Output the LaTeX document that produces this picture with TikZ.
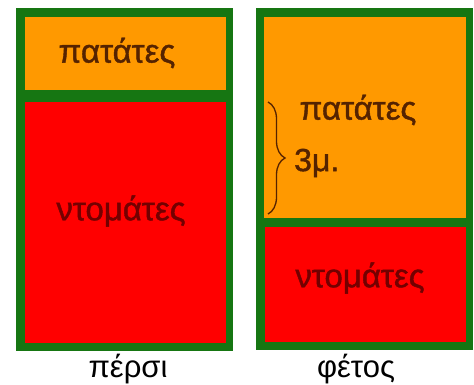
\documentclass[tikz,border=0pt]{standalone}
\usepackage{fontspec}
\setmainfont{Liberation Sans}
\newfontfamily\cropfont[FakeBold=1.2]{Liberation Sans}
\usetikzlibrary{decorations.pathreplacing}
\definecolor{gardengreen}{RGB}{22,118,18}
\definecolor{potato}{RGB}{255,153,0}
\definecolor{tomato}{RGB}{255,0,0}
\definecolor{potatotext}{RGB}{85,35,0}
\definecolor{tomatotext}{RGB}{115,0,0}
\tikzset{
  border/.style={fill=gardengreen},
  potatofill/.style={fill=potato},
  tomatofill/.style={fill=tomato},
  croplabel/.style={font=\cropfont\fontsize{33}{36}\selectfont, inner sep=0pt},
  yearlabel/.style={font=\fontsize{31}{36}\selectfont, text=black, inner sep=0pt}
}
\begin{document}
\begin{tikzpicture}[x=1pt,y=-1pt]
\useasboundingbox (0,0) rectangle (474,385);
% left column (last year)
\fill[border] (16,8) rectangle (233,351);
\fill[potatofill] (25,17) rectangle (226,90);
\fill[tomatofill] (25,102) rectangle (226,343);
% right column (this year)
\fill[border] (256,8) rectangle (473,350);
\fill[potatofill] (264,17) rectangle (466,218);
\fill[tomatofill] (265,227) rectangle (466,342);
% labels
\node[croplabel, text=potatotext] (potL) at (117,53) {πατάτες};
\node[croplabel, text=tomatotext] (tomL) at (121,211) {ντομάτες};
\node[croplabel, text=potatotext] (potR) at (358,110) {πατάτες};
\node[croplabel, text=tomatotext] (tomR) at (360,278) {ντομάτες};
\node[font=\cropfont\fontsize{32}{34}\selectfont, text=potatotext, inner sep=0pt, anchor=west] (dim) at (294,163) {3μ.};
\coordinate (bt) at (268,102);
\coordinate (bb) at (268,214);
\draw[potatotext, line width=1.3pt, decorate, decoration={brace, amplitude=17pt}] (bt) -- (bb);
\node[yearlabel] (lastyear) at (128,369) {πέρσι};
\node[yearlabel] (thisyear) at (356,369) {φέτος};
\end{tikzpicture}
\end{document}
